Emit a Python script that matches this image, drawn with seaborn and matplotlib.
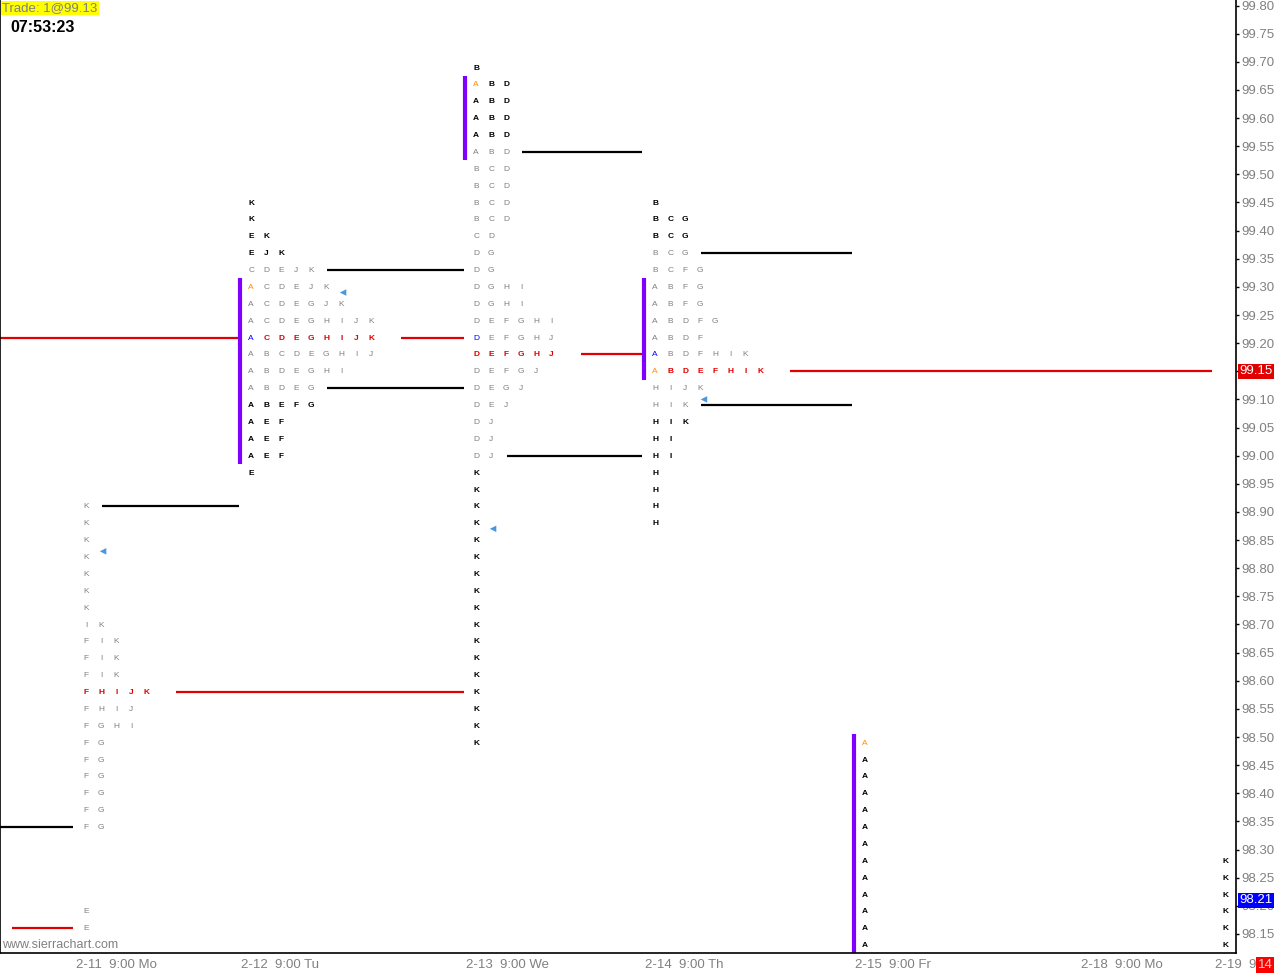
import numpy as np
import pandas as pd
import matplotlib
matplotlib.use("Agg")
from matplotlib import pyplot as plt
from matplotlib import transforms
import seaborn as sns

# ======================================================================
# Data (prices on a 0.03 TPO row grid, x in TPO columns)
# ======================================================================
TICK = 0.03

session_labels = ["2-11  9:00 Mo", "2-12  9:00 Tu", "2-13  9:00 We", "2-14  9:00 Th",
                  "2-15  9:00 Fr", "2-18  9:00 Mo", "2-19  9:"]
session_start = [4.8, 15.8, 30.8, 42.73, 56.73, 71.8, 80.73]

# 2-11
p1_top = 98.91
p1_rows = ["K", "K", "K", "K", "K", "K", "K", "IK", "FIK", "FIK", "FIK", "FHIJK", "FHIJ",
           "FGHI", "FG", "FG", "FG", "FG", "FG", "FG", "", "", "", "", "E", "E"]
p1_va = (98.16, 98.91)
p1_poc = 98.58

# 2-12
p2_top = 99.45
p2_rows = ["K", "K", "EK", "EJK", "CDEJK", "ACDEJK", "ACDEGJK", "ACDEGHIJK", "ACDEGHIJK",
           "ABCDEGHIJ", "ABDEGHI", "ABDEG", "ABEFG", "AEF", "AEF", "AEF", "E"]
p2_va = (99.12, 99.33)
p2_poc = 99.21
p2_open, p2_mark = 99.30, 99.21
p2_arange = (99.00, 99.30)

# 2-13
p3_top = 99.69
p3_rows = ["B", "ABD", "ABD", "ABD", "ABD", "ABD", "BCD", "BCD", "BCD", "BCD", "CD", "DG", "DG",
           "DGHI", "DGHI", "DEFGHI", "DEFGHJ", "DEFGHJ", "DEFGJ", "DEGJ", "DEJ", "DJ", "DJ", "DJ",
           "K", "K", "K", "K", "K", "K", "K", "K", "K", "K", "K", "K", "K", "K", "K", "K", "K"]
p3_va = (99.00, 99.54)
p3_poc = 99.18
p3_open, p3_mark = 99.66, 99.21
p3_arange = (99.54, 99.66)

# 2-14
p4_top = 99.45
p4_rows = ["B", "BCG", "BCG", "BCG", "BCFG", "ABFG", "ABFG", "ABDFG", "ABDF", "ABDFHIK",
           "ABDEFHIK", "HIJK", "HIK", "HIK", "HI", "HI", "H", "H", "H", "H"]
p4_va = (99.09, 99.36)
p4_poc = 99.15
p4_open, p4_mark = 99.15, 99.18
p4_arange = (99.15, 99.30)

# 2-15
p5_top = 98.49
p5_rows = ["A"] * 13
p5_open = 98.49
p5_arange = (98.13, 98.49)

# 2-19
p6_top = 98.28
p6_rows = ["K"] * 6

# extended value area / POC lines: profile session, price, kind, session where it stops
ext_session = [0, 0, 1, 1, 1, 2, 2, 2, 3, 3, 3]
ext_price = [98.91, 98.58, 99.33, 99.12, 99.21, 99.54, 99.18, 99.00, 99.36, 99.09, 99.15]
ext_kind = ["va", "poc", "va", "va", "poc", "va", "poc", "va", "va", "va", "poc"]
ext_end = [1, 2, 2, 2, 2, 3, 3, 3, 4, 4, 6]

# lines carried in from sessions left of the window
old_price = [98.34, 98.16, 99.21]
old_kind = ["va", "poc", "poc"]
old_x0 = [0.0, 0.8, 0.0]
old_end = [0, 0, 1]

# close markers
tri_session = [0, 1, 2, 3]
tri_offset = [2.07, 7.07, 2.07, 4.2]
tri_price = [98.83, 99.29, 98.87, 99.10]

price_ticks = np.round(np.arange(98.15, 99.8001, 0.05), 2)
last_price = 99.15
bid_price = 98.21

GRAY = "#808080"
RED = "#e00000"
BLUE = "#0000ff"
ORANGE = "#ff8c00"
PURPLE = "#8000ff"

profiles = [
    dict(session=0, top=p1_top, rows=p1_rows, va=p1_va, poc=p1_poc, open=None, mark=None, arange=None),
    dict(session=1, top=p2_top, rows=p2_rows, va=p2_va, poc=p2_poc, open=p2_open, mark=p2_mark, arange=p2_arange),
    dict(session=2, top=p3_top, rows=p3_rows, va=p3_va, poc=p3_poc, open=p3_open, mark=p3_mark, arange=p3_arange),
    dict(session=3, top=p4_top, rows=p4_rows, va=p4_va, poc=p4_poc, open=p4_open, mark=p4_mark, arange=p4_arange),
    dict(session=4, top=p5_top, rows=p5_rows, va=None, poc=None, open=p5_open, mark=None, arange=p5_arange),
    dict(session=6, top=p6_top, rows=p6_rows, va=None, poc=None, open=None, mark=None, arange=None),
]

# ======================================================================
# Figure
# ======================================================================
sns.set_style("white")
plt.rcParams["font.family"] = ["Liberation Sans", "DejaVu Sans"]

fig = plt.figure(figsize=(12.76, 9.74), dpi=100)
ax = fig.add_axes([0, 21 / 974, 1236 / 1276, 953 / 974])
ax.set_xlim(0, 1236 / 15)
ax.set_ylim(98.1161, 99.8099)


def same(a, b):
    return a is not None and abs(a - b) < 1e-6


# TPO letters
for p in profiles:
    x0 = session_start[p["session"]] + 0.95
    for i, row in enumerate(p["rows"]):
        price = round(p["top"] - i * TICK, 2)
        in_va = p["va"] is not None and p["va"][0] - 1e-6 <= price <= p["va"][1] + 1e-6
        for j, ch in enumerate(row):
            weight = "normal"
            if j == 0 and same(p["open"], price):
                colour = ORANGE
            elif j == 0 and same(p["mark"], price):
                colour = BLUE
            elif same(p["poc"], price):
                colour, weight = RED, "bold"
            elif in_va:
                colour = GRAY
            else:
                colour, weight = "black", "bold"
            ax.text(x0 + j, price - 0.001, ch, ha="center", va="center", fontsize=6,
                    color=colour, fontweight=weight)
    # opening range bar
    if p["arange"] is not None:
        ax.vlines(session_start[p["session"]] + 0.2, p["arange"][0] - TICK / 2,
                  p["arange"][1] + TICK / 2, color=PURPLE, lw=3)

# extended lines
prof_by_session = {p["session"]: p for p in profiles}
for s, price, kind, end in zip(ext_session, ext_price, ext_kind, ext_end):
    p = prof_by_session[s]
    row = p["rows"][int(round((p["top"] - price) / TICK))]
    last = session_start[s] + 0.95 + len(row) - 1
    start = last + (1.07 if kind == "va" else 2.0)
    ax.hlines(price, start, session_start[end] + 0.1,
              color="black" if kind == "va" else RED, lw=1.6)

for price, kind, x0, end in zip(old_price, old_kind, old_x0, old_end):
    ax.hlines(price, x0, session_start[end] + 0.07,
              color="black" if kind == "va" else RED, lw=1.6)

tri = pd.DataFrame({"x": [session_start[s] + o for s, o in zip(tri_session, tri_offset)],
                    "price": tri_price})
sns.scatterplot(data=tri, x="x", y="price", marker="<", s=22, color="#4a96e0",
                edgecolor="none", ax=ax, zorder=5)

# axes styling
ax.spines["top"].set_visible(False)
for side in ["left", "right", "bottom"]:
    ax.spines[side].set_color("black")
    ax.spines[side].set_linewidth(1.2)
ax.yaxis.tick_right()
ax.set_yticks(price_ticks)
ax.set_yticklabels([f"{v:.2f}" for v in price_ticks])
ax.tick_params(axis="y", direction="out", length=2.5, width=1, color="black",
               pad=1.2, labelsize=9.5, labelcolor=GRAY)
ax.set_xticks(session_start)
ax.tick_params(axis="x", direction="out", length=15.5, width=1, color="black",
               labelbottom=False)
ax.set_xlabel("")
ax.set_ylabel("")

lab_tr = ax.get_xaxis_transform() + transforms.ScaledTranslation(0.04, -0.12, fig.dpi_scale_trans)
for xs, lab in zip(session_start, session_labels):
    ax.text(xs, 0, lab, transform=lab_tr, ha="left", va="center", fontsize=9.5,
            color=GRAY, clip_on=False)

# price boxes on the right scale
box_tr = transforms.blended_transform_factory(ax.transAxes, ax.transData) + \
    transforms.ScaledTranslation(0.035, 0, fig.dpi_scale_trans)
ax.text(1.0, last_price, f"{last_price:.2f}", transform=box_tr, ha="left", va="center",
        fontsize=9.5, color="white", clip_on=False,
        bbox=dict(boxstyle="square,pad=0.12", fc=RED, ec="none"))
ax.text(1.0, bid_price, f"{bid_price:.2f}", transform=box_tr, ha="left", va="center",
        fontsize=9.5, color="white", clip_on=False,
        bbox=dict(boxstyle="square,pad=0.12", fc=BLUE, ec="none"))

# header / footer texts
fig.text(2 / 1276, 1 - 8 / 974, "Trade: 1@99.13", ha="left", va="center", fontsize=9.5,
         color=GRAY, bbox=dict(boxstyle="square,pad=0.1", fc="#ffff00", ec="none"))
fig.text(10 / 1276, 1 - 28 / 974, "07:53:23", ha="left", va="center", fontsize=11.5,
         fontweight="bold", color="black")
fig.text(2 / 1276, 1 - 945 / 974, "www.sierrachart.com", ha="left", va="center",
         fontsize=9, color=GRAY)
fig.text(1258 / 1276, 1 - 965 / 974, "14", ha="left", va="center", fontsize=9.5,
         color="#d8d8d8", bbox=dict(boxstyle="square,pad=0.12", fc="#ff0000", ec="none"))

fig.savefig("out.png", dpi=100)
